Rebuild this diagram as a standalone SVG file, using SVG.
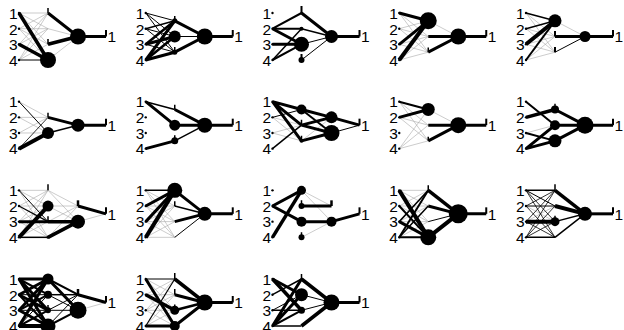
<svg xmlns="http://www.w3.org/2000/svg" width="624" height="330" viewBox="0 0 624 330">
<style>
.g{fill:none;stroke:#aaa;stroke-width:.6}
.k08{fill:none;stroke:#000;stroke-width:.8}
.k1{fill:none;stroke:#000;stroke-width:1}
.k12{fill:none;stroke:#000;stroke-width:1.2}
.k15{fill:none;stroke:#000;stroke-width:1.5}
.k2{fill:none;stroke:#000;stroke-width:2}
.k25{fill:none;stroke:#000;stroke-width:2.5}
.k3{fill:none;stroke:#000;stroke-width:3}
.k35{fill:none;stroke:#000;stroke-width:3.5}
.k4{fill:none;stroke:#000;stroke-width:4}
.t{fill:none;stroke:#000;stroke-width:1.5}
.ot{fill:none;stroke:#000;stroke-width:2}
.n{fill:#000}
text{font-family:"Liberation Sans",Arial,Helvetica,sans-serif;font-size:15.5px;fill:#000}
.il{text-anchor:end}
</style>
<defs>
<g id="inl">
<text class="il" x="-1.5" y="5.8">1</text><text class="il" x="-1.5" y="21.5">2</text><text class="il" x="-1.5" y="37.1">3</text><text class="il" x="-1.5" y="52.8">4</text>
<circle class="n" cx="0" cy="0" r="1.2"/><circle class="n" cx="0" cy="15.7" r="1.2"/><circle class="n" cx="0" cy="31.3" r="1.2"/><circle class="n" cx="0" cy="47" r="1.2"/>
</g>
</defs>

<!-- Panel 1 -->
<g id="net1" transform="translate(19,13)">
<g class="connectors">
<path class="g" d="M0 0L29 0M0 15.7L29 0M0 31.3L29 0M0 47L29 0M0 0L29 15.7M0 15.7L29 15.7M0 31.3L29 15.7M0 47L29 15.7M0 0L29 31.3M0 15.7L29 31.3M0 47L29 31.3M0 15.7L29 47M29 15.7L59 23.5M29 47L59 23.5"/>
<path class="k1" d="M0 47L29 47"/>
<path class="k3" d="M29 0L59 23.5M59 23.5H87"/>
<path class="k35" d="M0 0L29 47M0 31.3L29 47M29 31.3L59 23.5"/>
</g>
<g class="nodes">
<path class="t" d="M29 0V-5M29 31.3V26"/><path class="ot" d="M87 23.5V17"/>
<circle class="n" cx="29" cy="47" r="8"/><circle class="n" cx="59" cy="23.5" r="8"/>
</g>
<use href="#inl"/><text x="88.5" y="29.3">1</text>
</g>

<!-- Panel 2 -->
<g id="net2" transform="translate(145.75,13)">
<g class="connectors">
<path class="k1" d="M0 0L29 7.8M0 0L29 23.5M0 0L29 39.2M0 15.7L29 23.5M0 15.7L29 39.2M0 31.3L29 39.2M29 23.5L59 23.5"/>
<path class="k15" d="M0 15.7L29 7.8"/>
<path class="k25" d="M0 31.3L29 7.8M0 47L29 23.5"/>
<path class="k3" d="M0 31.3L29 23.5M0 47L29 7.8M0 47L29 39.2M29 7.8L59 23.5M29 39.2L59 23.5M59 23.5H87"/>
</g>
<g class="nodes">
<path class="t" d="M29 7.8V3M29 39.2V34"/><path class="ot" d="M87 23.5V17"/>
<circle class="n" cx="29" cy="7.8" r="2.5"/><circle class="n" cx="29" cy="23.5" r="6"/><circle class="n" cx="29" cy="39.2" r="2.5"/><circle class="n" cx="59" cy="23.5" r="8"/>
</g>
<use href="#inl"/><text x="88.5" y="29.3">1</text>
</g>

<!-- Panel 3 -->
<g id="net3" transform="translate(272.5,13)">
<g class="connectors">
<path class="k1" d="M29 31.3L59 23.5M29 47L59 23.5"/>
<path class="k15" d="M29 15.7L59 23.5M0 47L29 15.7"/>
<path class="k2" d="M0 15.7L29 0M0 15.7L29 15.7M0 47L29 31.3"/>
<path class="k3" d="M0 15.7L29 31.3M0 31.3L29 31.3M29 0L59 23.5M59 23.5H87"/>
</g>
<g class="nodes">
<path class="ot" d="M29 0V-7M29 47V41M87 23.5V17"/>
<circle class="n" cx="29" cy="15.7" r="2"/><circle class="n" cx="29" cy="31.3" r="7.5"/><circle class="n" cx="29" cy="47" r="3"/><circle class="n" cx="59" cy="23.5" r="6.5"/>
</g>
<use href="#inl"/><text x="88.5" y="29.3">1</text>
</g>

<!-- Panel 4 -->
<g id="net4" transform="translate(399.25,13)">
<g class="connectors">
<path class="g" d="M0 15.7L29 7.8M0 0L29 23.5M0 0L29 39.2M0 15.7L29 23.5M0 15.7L29 39.2M0 31.3L29 23.5M0 31.3L29 39.2M0 47L29 23.5M0 47L29 39.2M29 7.8L59 23.5"/>
<path class="k3" d="M0 0L29 7.8M0 31.3L29 7.8M29 23.5L59 23.5M29 39.2L59 23.5M59 23.5H87"/>
<path class="k4" d="M0 47L29 7.8"/>
</g>
<g class="nodes">
<path class="t" d="M29 39.2V34.5"/><path class="ot" d="M87 23.5V17"/>
<circle class="n" cx="29" cy="7.8" r="8.5"/><circle class="n" cx="59" cy="23.5" r="8"/>
</g>
<use href="#inl"/><text x="88.5" y="29.3">1</text>
</g>

<!-- Panel 5 -->
<g id="net5" transform="translate(526,13)">
<g class="connectors">
<path class="g" d="M0 0L29 23.5M0 15.7L29 23.5M0 31.3L29 23.5M0 47L29 23.5M0 0L29 39.2M0 15.7L29 39.2M0 31.3L29 39.2M0 47L29 39.2M29 7.8L59 23.5"/>
<path class="k1" d="M29 39.2L59 23.5"/>
<path class="k15" d="M0 0L29 7.8M0 15.7L29 7.8"/>
<path class="k2" d="M0 47L29 7.8"/>
<path class="k3" d="M29 23.5L59 23.5M59 23.5H87"/>
<path class="k4" d="M0 31.3L29 7.8"/>
</g>
<g class="nodes">
<path class="ot" d="M29 23.5V18M29 39.2V34M87 23.5V17"/>
<circle class="n" cx="29" cy="7.8" r="6.5"/><circle class="n" cx="59" cy="23.5" r="5.5"/>
</g>
<use href="#inl"/><text x="88.5" y="29.3">1</text>
</g>

<!-- Panel 6 -->
<g id="net6" transform="translate(19,101.67)">
<g class="connectors">
<path class="g" d="M0 0L29 15.7M0 15.7L29 15.7M0 15.7L29 31.3M0 31.3L29 15.7M0 31.3L29 31.3"/>
<path class="k08" d="M0 47L29 15.7"/>
<path class="k1" d="M0 0L29 31.3"/>
<path class="k15" d="M29 31.3L59 23.5"/>
<path class="k3" d="M29 15.7L59 23.5M59 23.5H87"/>
<path class="k4" d="M0 47L29 31.3"/>
</g>
<g class="nodes">
<path class="t" d="M29 15.7V11"/><path class="ot" d="M87 23.5V17"/>
<circle class="n" cx="29" cy="31.3" r="6"/><circle class="n" cx="59" cy="23.5" r="6.5"/>
</g>
<use href="#inl"/><text x="88.5" y="29.3">1</text>
</g>

<!-- Panel 7 -->
<g id="net7" transform="translate(145.75,101.67)">
<g class="connectors">
<path class="k15" d="M0 0L29 7.8M29 39.2L59 23.5"/>
<path class="k3" d="M0 0L29 23.5M0 47L29 39.2M29 7.8L59 23.5M29 23.5L59 23.5M59 23.5H87"/>
</g>
<g class="nodes">
<path class="t" d="M29 7.8V3M29 39.2V33.5"/><path class="ot" d="M87 23.5V17"/>
<circle class="n" cx="29" cy="23.5" r="5.5"/><circle class="n" cx="29" cy="39.2" r="3.5"/><circle class="n" cx="59" cy="23.5" r="7.5"/>
</g>
<use href="#inl"/><text x="88.5" y="29.3">1</text>
</g>

<!-- Panel 8 -->
<g id="net8" transform="translate(272.5,101.67)">
<g class="connectors">
<path class="g" d="M0 15.7L29 23.5M0 31.3L29 23.5M0 15.7L29 39.2M0 31.3L29 39.2M29 39.2L59 15.7"/>
<path class="k1" d="M0 15.7L29 7.8M59 31.3L87 23.5"/>
<path class="k15" d="M0 47L29 23.5"/>
<path class="k2" d="M29 7.8L59 31.3"/>
<path class="k3" d="M0 0L29 7.8M0 0L29 23.5M0 0L29 39.2M29 7.8L59 15.7M29 23.5L59 15.7M29 23.5L59 31.3M29 39.2L59 31.3M59 15.7L87 23.5"/>
</g>
<g class="nodes">
<path class="t" d="M29 23.5V18M29 39.2V34"/><path class="ot" d="M87 23.5V17"/>
<circle class="n" cx="29" cy="7.8" r="5"/><circle class="n" cx="29" cy="39.2" r="2"/><circle class="n" cx="59" cy="15.7" r="6"/><circle class="n" cx="59" cy="31.3" r="8"/>
</g>
<use href="#inl"/><text x="88.5" y="29.3">1</text>
</g>

<!-- Panel 9 -->
<g id="net9" transform="translate(399.25,101.67)">
<g class="connectors">
<path class="g" d="M0 0L29 23.5M0 0L29 39.2M0 15.7L29 23.5M0 15.7L29 39.2M0 47L29 7.8M0 47L29 23.5M0 47L29 39.2M29 7.8L59 23.5"/>
<path class="k2" d="M0 0L29 7.8"/>
<path class="k3" d="M0 15.7L29 7.8M29 23.5L59 23.5M29 39.2L59 23.5M59 23.5H87"/>
</g>
<g class="nodes">
<path class="t" d="M29 39.2V35"/><path class="ot" d="M87 23.5V17"/>
<circle class="n" cx="29" cy="7.8" r="6.5"/><circle class="n" cx="59" cy="23.5" r="8"/>
</g>
<use href="#inl"/><text x="88.5" y="29.3">1</text>
</g>

<!-- Panel 10 -->
<g id="net10" transform="translate(526,101.67)">
<g class="connectors">
<path class="g" d="M0 31.3L29 23.5"/>
<path class="k2" d="M0 0L29 23.5M0 31.3L29 39.2"/>
<path class="k3" d="M0 47L29 23.5M0 47L29 39.2M29 7.8L59 23.5M29 23.5L59 23.5M29 39.2L59 23.5M59 23.5H87"/>
<path class="k35" d="M0 15.7L29 7.8"/>
</g>
<g class="nodes">
<path class="t" d="M29 7.8V2"/><path class="ot" d="M87 23.5V17"/>
<circle class="n" cx="29" cy="7.8" r="4"/><circle class="n" cx="29" cy="23.5" r="5"/><circle class="n" cx="29" cy="39.2" r="6.5"/><circle class="n" cx="59" cy="23.5" r="8.5"/>
</g>
<use href="#inl"/><text x="88.5" y="29.3">1</text>
</g>

<!-- Panel 11 -->
<g id="net11" transform="translate(19,190.33)">
<g class="connectors">
<path class="g" d="M0 0L29 0M0 15.7L29 0M0 31.3L29 0M0 47L29 0M0 0L29 15.7M0 15.7L29 15.7M0 31.3L29 15.7M0 0L29 47M0 15.7L29 47M0 31.3L29 47M0 47L29 31.3M29 0L59 15.7M29 0L59 31.3M29 15.7L59 15.7M29 15.7L59 31.3M29 31.3L59 15.7M29 47L59 15.7M59 31.3L87 23.5"/>
<path class="k1" d="M0 0L29 31.3"/>
<path class="k12" d="M0 15.7L29 31.3"/>
<path class="k15" d="M0 47L29 47"/>
<path class="k3" d="M0 31.3L29 31.3M59 15.7L87 23.5"/>
<path class="k35" d="M29 31.3L59 31.3M29 47L59 31.3"/>
<path class="k4" d="M0 47L29 15.7"/>
</g>
<g class="nodes">
<path class="t" d="M29 0V-6M29 31.3V26"/><path class="k25" d="M59 15.7V10"/><path class="ot" d="M87 23.5V17"/>
<circle class="n" cx="29" cy="15.7" r="5.5"/><circle class="n" cx="29" cy="47" r="1.5"/><circle class="n" cx="59" cy="31.3" r="7"/>
</g>
<use href="#inl"/><text x="88.5" y="29.3">1</text>
</g>

<!-- Panel 12 -->
<g id="net12" transform="translate(145.75,190.33)">
<g class="connectors">
<path class="g" d="M0 0L29 15.7M0 0L29 31.3M0 0L29 47M0 15.7L29 15.7M0 15.7L29 31.3M0 15.7L29 47M0 31.3L29 15.7M0 31.3L29 31.3M0 31.3L29 47M0 47L29 15.7M0 47L29 31.3M0 47L29 47"/>
<path class="k1" d="M29 47L59 23.5"/>
<path class="k15" d="M0 0L29 0M29 15.7L59 23.5"/>
<path class="k3" d="M0 15.7L29 0M0 31.3L29 0M29 0L59 23.5M29 31.3L59 23.5M59 23.5H87"/>
<path class="k4" d="M0 47L29 0"/>
</g>
<g class="nodes">
<path class="t" d="M29 15.7V11"/><path class="ot" d="M87 23.5V17"/>
<circle class="n" cx="29" cy="0" r="7.5"/><circle class="n" cx="59" cy="23.5" r="7"/>
</g>
<use href="#inl"/><text x="88.5" y="29.3">1</text>
</g>

<!-- Panel 13 -->
<g id="net13" transform="translate(272.5,190.33)">
<g class="connectors">
<path class="g" d="M29 0L59 15.7M29 0L59 31.3M29 47L59 31.3"/>
<path class="k3" d="M0 15.7L29 0M0 15.7L29 31.3M29 15.7L59 15.7M29 31.3L59 31.3M59 31.3L87 23.5"/>
<path class="k35" d="M0 47L29 0"/>
</g>
<g class="nodes">
<path class="t" d="M29 15.7V10M29 47V42"/><path class="k25" d="M59 15.7V10"/><path class="ot" d="M87 23.5V17"/>
<circle class="n" cx="29" cy="0" r="4.5"/><circle class="n" cx="29" cy="15.7" r="3"/><circle class="n" cx="29" cy="31.3" r="5"/><circle class="n" cx="29" cy="47" r="3"/><circle class="n" cx="59" cy="31.3" r="5"/>
</g>
<use href="#inl"/><text x="88.5" y="29.3">1</text>
</g>

<!-- Panel 14 -->
<g id="net14" transform="translate(399.25,190.33)">
<g class="connectors">
<path class="g" d="M0 0L29 0M0 0L29 15.7M0 0L29 31.3M0 15.7L29 0M0 15.7L29 15.7M0 15.7L29 31.3M0 31.3L29 15.7M0 31.3L29 31.3M0 47L29 31.3"/>
<path class="k1" d="M29 31.3L59 23.5"/>
<path class="k15" d="M0 31.3L29 0M0 47L29 15.7"/>
<path class="k2" d="M0 15.7L29 47M0 47L29 0M0 47L29 47"/>
<path class="k3" d="M0 31.3L29 47M29 15.7L59 23.5M59 23.5H87"/>
<path class="k35" d="M29 0L59 23.5"/>
<path class="k4" d="M0 0L29 47M29 47L59 23.5"/>
</g>
<g class="nodes">
<path class="t" d="M29 0V-5"/><path class="ot" d="M87 23.5V17"/>
<circle class="n" cx="29" cy="47" r="8"/><circle class="n" cx="59" cy="23.5" r="9.5"/>
</g>
<use href="#inl"/><text x="88.5" y="29.3">1</text>
</g>

<!-- Panel 15 -->
<g id="net15" transform="translate(526,190.33)">
<g class="connectors">
<path class="g" d="M0 15.7L29 31.3M0 31.3L29 15.7"/>
<path class="k08" d="M0 0L29 31.3M0 0L29 47M0 15.7L29 0M0 15.7L29 47M0 31.3L29 0M0 31.3L29 47M0 47L29 0M0 47L29 15.7M0 47L29 31.3"/>
<path class="k1" d="M0 0L29 15.7M0 15.7L29 15.7"/>
<path class="k15" d="M0 0L29 0M0 47L29 47M29 31.3L59 23.5M29 47L59 23.5"/>
<path class="k3" d="M59 23.5H87"/>
<path class="k35" d="M29 0L59 23.5"/>
<path class="k4" d="M0 31.3L29 31.3M29 15.7L59 23.5"/>
</g>
<g class="nodes">
<path class="t" d="M29 0V-6M29 31.3V25.5"/><path class="ot" d="M87 23.5V17"/>
<circle class="n" cx="29" cy="31.3" r="4.5"/><circle class="n" cx="59" cy="23.5" r="7"/>
</g>
<use href="#inl"/><text x="88.5" y="29.3">1</text>
</g>

<!-- Panel 16 -->
<g id="net16" transform="translate(19,279)">
<g class="connectors">
<path class="g" d="M59 31.3L87 23.5"/>
<path class="k1" d="M0 15.7L29 15.7M0 47L29 15.7M0 31.3L29 31.3M29 31.3L59 15.7M29 31.3L59 31.3M29 47L59 15.7M29 15.7L59 31.3"/>
<path class="k15" d="M29 15.7L59 15.7"/>
<path class="k2" d="M0 0L29 15.7M0 15.7L29 47M0 31.3L29 15.7M0 47L29 31.3M29 0L59 15.7M29 47L59 31.3"/>
<path class="k3" d="M0 0L29 0M0 0L29 31.3M0 0L29 47M0 15.7L29 0M0 15.7L29 31.3M0 31.3L29 0M0 31.3L29 47M0 47L29 0M29 0L59 31.3M59 15.7L87 23.5"/>
<path class="k4" d="M0 47L29 47"/>
</g>
<g class="nodes">
<path class="t" d="M29 31.3V26"/><path class="k25" d="M59 15.7V10"/><path class="ot" d="M87 23.5V17"/>
<circle class="n" cx="29" cy="0" r="5.5"/><circle class="n" cx="29" cy="15.7" r="4"/><circle class="n" cx="29" cy="31.3" r="3"/><circle class="n" cx="29" cy="47" r="7.5"/><circle class="n" cx="59" cy="31.3" r="8.5"/>
</g>
<use href="#inl"/><text x="88.5" y="29.3">1</text>
</g>

<!-- Panel 17 -->
<g id="net17" transform="translate(145.75,279)">
<g class="connectors">
<path class="g" d="M0 0L29 15.7M0 0L29 31.3M0 15.7L29 0M0 15.7L29 15.7M0 15.7L29 47M0 31.3L29 0M0 31.3L29 15.7M0 31.3L29 31.3M0 31.3L29 47M0 47L29 15.7M0 47L29 31.3"/>
<path class="k1" d="M0 0L29 0"/>
<path class="k12" d="M0 47L29 0"/>
<path class="k25" d="M29 31.3L59 23.5"/>
<path class="k3" d="M0 0L29 47M0 47L29 47M29 15.7L59 23.5M29 47L59 23.5M59 23.5H87"/>
<path class="k35" d="M0 15.7L29 31.3M29 0L59 23.5"/>
</g>
<g class="nodes">
<path class="t" d="M29 0V-6M29 15.7V10M29 31.3V25.5"/><path class="ot" d="M87 23.5V17"/>
<circle class="n" cx="29" cy="31.3" r="4.5"/><circle class="n" cx="29" cy="47" r="5"/><circle class="n" cx="59" cy="23.5" r="8"/>
</g>
<use href="#inl"/><text x="88.5" y="29.3">1</text>
</g>

<!-- Panel 18 -->
<g id="net18" transform="translate(272.5,279)">
<g class="connectors">
<path class="k1" d="M0 31.3L29 15.7M29 15.7L59 23.5M29 31.3L59 23.5"/>
<path class="k15" d="M0 15.7L29 0M0 31.3L29 31.3M0 47L29 47"/>
<path class="k2" d="M0 47L29 31.3"/>
<path class="k3" d="M0 0L29 15.7M0 47L29 0M0 47L29 15.7M59 23.5H87"/>
<path class="k35" d="M0 0L29 31.3M29 0L59 23.5M29 47L59 23.5"/>
</g>
<g class="nodes">
<path class="t" d="M29 0V-5"/><path class="ot" d="M87 23.5V17"/>
<circle class="n" cx="29" cy="15.7" r="6.5"/><circle class="n" cx="29" cy="31.3" r="3.5"/><circle class="n" cx="59" cy="23.5" r="8"/>
</g>
<use href="#inl"/><text x="88.5" y="29.3">1</text>
</g>
</svg>
